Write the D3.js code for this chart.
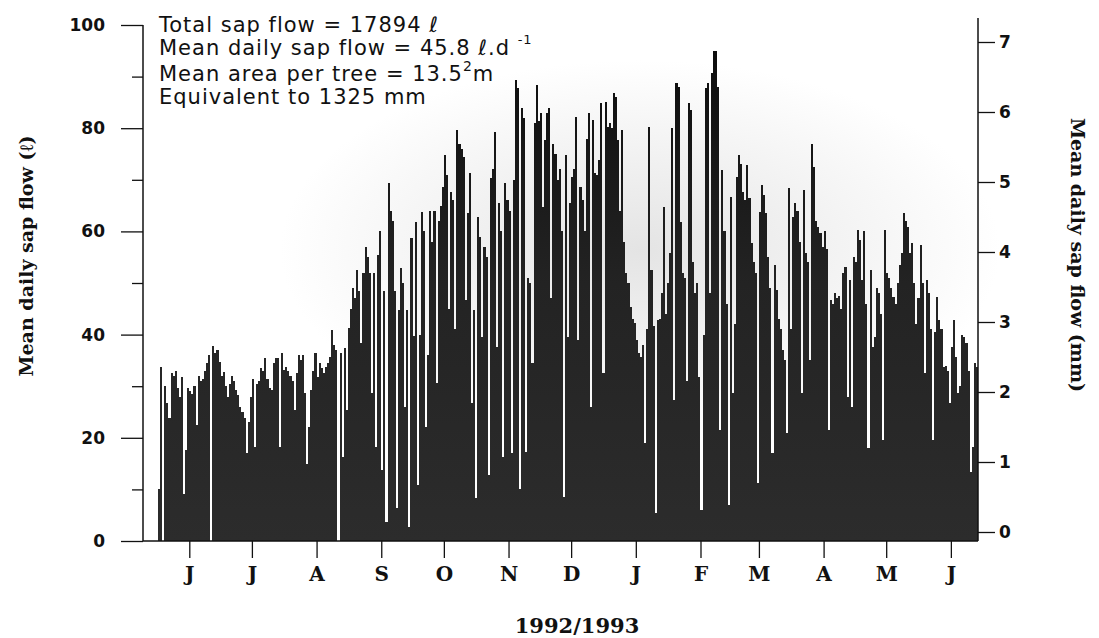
<!DOCTYPE html>
<html>
<head>
<meta charset="utf-8">
<script src="https://cdn.jsdelivr.net/npm/d3@7"></script>
<style>
  body { margin: 0; background: #fff; }
</style>
</head>
<body>
<div id="vis"></div>
<script>
// Frame
const FRAME_WIDTH = 1099;
const FRAME_HEIGHT = 638;
const PLOT = {left: 143, right: 978, top: 25, bottom: 541};

// Data: one value per day, from 17 May 1992
const START_DATE = new Date(1992, 4, 17);
const SAP_FLOW = [
  // May - Jul 1992
  10, 33.7, 0, 30, 26.7, 23.8, 32.5, 32, 32.9, 29.6, 28, 31.7, 9.2, 17.6, 29.6, 29, 28.5, 30, 22.5, 31.9,
  31, 31.3, 33, 34.4, 36, 0, 37.7, 36.5, 37, 34.7, 32, 32.7, 30, 28, 30.5, 32, 31, 29.2, 28.3, 26,
  25, 23.8, 17, 23, 28, 31.3, 18.3, 30.5, 31, 33.5, 33, 35.4, 31.3, 29.6, 29.3, 34.4, 35.4, 35.4, 18.3, 36.5,
  33.2, 33.7, 33, 32, 31,
  // Jul - Sep 1992
  25.4, 32.5, 36, 35, 36, 28.6, 15, 22, 29.3, 33, 36.4, 31.8, 34.4, 33.5, 32.5, 33.7, 34.5, 35.7, 40.9, 38,
  37, 0, 36.4, 16.3, 37.4, 25.4, 41.3, 45, 49, 47, 52.5, 48.5, 38.4, 52, 57, 55, 52, 28.6, 52, 18.3,
  55.4, 60, 13.8, 48.5, 3.7, 69.3, 64, 62, 48.5, 6.4, 44.8, 53, 50, 26, 44.8, 2.7, 58.7, 39.7, 61.8, 10.9,
  40, 63.8, 60, 22, 36, 64, 58,
  // Sep - Dec 1992
  64, 30.6, 62, 65, 68.6, 74.8, 71, 45, 67.6, 66, 41, 79.7, 77, 76, 74.5, 46.7, 63.5, 71.3, 26.7, 44.8,
  8.3, 62.8, 59, 39.5, 57, 55, 12.8, 70.3, 72, 79.3, 37.6, 65.5, 60, 16.3, 69.4, 66, 64, 17, 70, 89.3,
  87.8, 10, 84, 82, 17.2, 51, 50, 34.5, 81, 88.4, 81.4, 82.9, 64.7, 77.7, 82.9, 83.9, 47, 77, 75, 70,
  72, 60, 8.5, 74.8, 39.5, 65.5, 70.5, 72,
  // Dec 1992 - Feb 1993
  82.2, 39, 68.6, 66, 60, 78, 82.9, 26, 81.6, 71.3, 71, 73.8, 84.9, 32.6, 85, 80.2, 81, 80, 86.8, 86,
  77.7, 64, 79.7, 58, 52, 50, 45.4, 43, 42.2, 39, 36.5, 35.7, 38, 19, 41, 80.2, 52.5, 41.6, 5.4, 42.8,
  43, 48, 64.7, 44, 50, 55.8, 80, 27.3, 88.8, 88, 61.8, 52, 51, 31, 84.9, 83.5, 54, 48, 50, 31.8,
  6, 40, 87.8, 88.8, 48, 90.7, 95,
  // Feb - Apr 1993
  95, 88, 21.5, 71.9, 60, 46, 7, 66.7, 28.6, 42, 70.5, 74.8, 73, 67.6, 66, 72.9, 66.5, 57.7, 54, 52,
  11.2, 63.8, 69, 67, 63.5, 55, 49, 17, 53.5, 48.6, 43, 41, 37, 35, 21, 68.4, 41, 62.8, 65.5, 64,
  58, 28.6, 68, 55.8, 54, 35, 77, 72.5, 62, 60.9, 59.6, 57, 60, 56.5, 21.5, 46.7, 46, 48, 47, 47.5,
  45, 52,
  // Apr - Jun 1993
  53.1, 28, 50.6, 26, 55, 54, 60.3, 58.3, 50.6, 60, 46, 18, 52.5, 37.6, 39.5, 49, 48, 44, 19.6, 60.3,
  52, 51, 49, 47.3, 46, 50, 53.5, 55.8, 63.5, 62, 60.9, 55.8, 57.7, 50, 42, 47, 57.4, 50, 32.5, 50.6,
  48, 41, 19.6, 40.5, 47.3, 42.8, 41, 33.7, 34, 33, 26.7, 37.6, 42.8, 35.7, 28.6, 30, 40, 39.5, 38.4, 33,
  13.4, 18.3, 34.5, 33.7
];

const MONTH_LABELS = ["J", "J", "A", "S", "O", "N", "D", "J", "F", "M", "A", "M", "J"];
const LEFT_TICKS = [0, 20, 40, 60, 80, 100];
const LEFT_MINOR_TICKS = [10, 30, 50, 70, 90];
const RIGHT_TICKS = [0, 1, 2, 3, 4, 5, 6, 7];

const SANS = "'DejaVu Sans', Verdana, sans-serif";
const SERIF = "'DejaVu Serif', Georgia, serif";

const SVG = d3.select("#vis")
  .append("svg")
    .attr("width", FRAME_WIDTH)
    .attr("height", FRAME_HEIGHT)
    .style("font-family", SANS);

// scales
const END_DATE = d3.timeDay.offset(START_DATE, SAP_FLOW.length);
const X_SCALE = d3.scaleTime()
  .domain([START_DATE, END_DATE])
  .range([158, PLOT.right]);

const Y_SCALE = d3.scaleLinear()
  .domain([0, 100])
  .range([PLOT.bottom, PLOT.top]);

// right axis in mm (13.5 m2 per tree), scan sits slightly higher
const Y_SCALE_MM = d3.scaleLinear()
  .domain([0, 7])
  .range([532, 42]);

// soft grey haze behind the bars, as in the scan
const defs = SVG.append("defs");
const haze = defs.append("radialGradient").attr("id", "haze");
haze.append("stop").attr("offset", "0%").attr("stop-color", "#e4e4e4");
haze.append("stop").attr("offset", "100%").attr("stop-color", "#ffffff");

const barFill = defs.append("linearGradient")
  .attr("id", "barFill")
  .attr("gradientUnits", "userSpaceOnUse")
  .attr("x1", 0).attr("y1", PLOT.top)
  .attr("x2", 0).attr("y2", PLOT.bottom);
barFill.append("stop").attr("offset", "0%").attr("stop-color", "#0b0b0b");
barFill.append("stop").attr("offset", "50%").attr("stop-color", "#232323");
barFill.append("stop").attr("offset", "100%").attr("stop-color", "#2c2c2c");

SVG.append("ellipse")
  .attr("cx", 640).attr("cy", 250)
  .attr("rx", 360).attr("ry", 190)
  .attr("fill", "url(#haze)");

// bars
const days = SAP_FLOW.map((v, i) => ({date: d3.timeDay.offset(START_DATE, i), value: v}));

SVG.append("g")
  .attr("shape-rendering", "crispEdges")
  .selectAll(".bar")
  .data(days)
  .enter()
  .append("rect")
    .attr("class", "bar")
    .attr("x", d => X_SCALE(d.date))
    .attr("y", d => Y_SCALE(d.value))
    .attr("width", d => X_SCALE(d3.timeDay.offset(d.date, 1)) - X_SCALE(d.date))
    .attr("height", d => PLOT.bottom - Y_SCALE(d.value))
    .attr("fill", "url(#barFill)");

// axis lines
SVG.append("line")
  .attr("x1", PLOT.left).attr("x2", PLOT.left)
  .attr("y1", PLOT.top).attr("y2", PLOT.bottom)
  .attr("stroke", "#111").attr("stroke-width", 1.5);
SVG.append("line")
  .attr("x1", PLOT.right).attr("x2", PLOT.right)
  .attr("y1", 18).attr("y2", PLOT.bottom)
  .attr("stroke", "#111").attr("stroke-width", 1.5);
SVG.append("line")
  .attr("x1", PLOT.left).attr("x2", PLOT.right)
  .attr("y1", PLOT.bottom).attr("y2", PLOT.bottom)
  .attr("stroke", "#111").attr("stroke-width", 1.5);

// left axis
const leftAxis = SVG.append("g")
  .attr("transform", "translate(" + PLOT.left + ",0)")
  .call(d3.axisLeft(Y_SCALE).tickValues(LEFT_TICKS).tickSize(22).tickPadding(16));
leftAxis.select(".domain").remove();
leftAxis.selectAll("text")
  .attr("font-size", "17px")
  .attr("font-weight", "bold")
  .attr("font-family", SANS)
  .attr("fill", "#111");
leftAxis.selectAll("line").attr("stroke", "#111").attr("stroke-width", 1.3);

const leftMinor = SVG.append("g")
  .attr("transform", "translate(" + PLOT.left + ",0)")
  .call(d3.axisLeft(Y_SCALE).tickValues(LEFT_MINOR_TICKS).tickSize(11).tickFormat(""));
leftMinor.select(".domain").remove();
leftMinor.selectAll("line").attr("stroke", "#111").attr("stroke-width", 1.3);

// right axis
const rightAxis = SVG.append("g")
  .attr("transform", "translate(" + PLOT.right + ",0)")
  .call(d3.axisRight(Y_SCALE_MM).tickValues(RIGHT_TICKS).tickSize(17).tickPadding(4)
    .tickFormat(d3.format("d")));
rightAxis.select(".domain").remove();
rightAxis.selectAll("text")
  .attr("font-size", "17px")
  .attr("font-weight", "bold")
  .attr("font-family", SANS)
  .attr("fill", "#111");
rightAxis.selectAll("line").attr("stroke", "#111").attr("stroke-width", 1.3);

// bottom axis, one tick per month
const MONTHS = d3.timeMonth.range(new Date(1992, 5, 1), new Date(1993, 5, 2));
const bottomAxis = SVG.append("g")
  .attr("transform", "translate(0," + PLOT.bottom + ")")
  .call(d3.axisBottom(X_SCALE)
    .tickValues(MONTHS)
    .tickSize(17)
    .tickPadding(9)
    .tickFormat((d, i) => MONTH_LABELS[i]));
bottomAxis.select(".domain").remove();
bottomAxis.selectAll("text")
  .attr("font-size", "20px")
  .attr("font-weight", "bold")
  .attr("font-family", SERIF)
  .attr("fill", "#111");
bottomAxis.selectAll("line").attr("stroke", "#111").attr("stroke-width", 1.3);

// axis titles
SVG.append("text")
  .attr("transform", "translate(33,256) rotate(-90)")
  .attr("text-anchor", "middle")
  .attr("font-family", SERIF)
  .attr("font-weight", "bold")
  .attr("font-size", "19px")
  .attr("fill", "#111")
  .text("Mean daily sap flow (ℓ)");

SVG.append("text")
  .attr("transform", "translate(1071,255) rotate(90)")
  .attr("text-anchor", "middle")
  .attr("font-family", SERIF)
  .attr("font-weight", "bold")
  .attr("font-size", "19px")
  .attr("fill", "#111")
  .text("Mean daily sap flow (mm)");

SVG.append("text")
  .attr("x", 577).attr("y", 633)
  .attr("text-anchor", "middle")
  .attr("font-family", SERIF)
  .attr("font-weight", "bold")
  .attr("font-size", "21px")
  .attr("fill", "#111")
  .text("1992/1993");

// annotation block
const notes = SVG.append("g")
  .attr("font-size", "21px")
  .attr("font-family", SANS)
  .attr("letter-spacing", "1px")
  .attr("fill", "#111");

notes.append("text").attr("x", 159).attr("y", 32)
  .text("Total sap flow = 17894 ℓ");

const line2 = notes.append("text").attr("x", 159).attr("y", 55);
line2.append("tspan").text("Mean daily sap flow = 45.8 ℓ.d ");
line2.append("tspan").attr("dy", -11).attr("font-size", "13px").text("-1");

const line3 = notes.append("text").attr("x", 159).attr("y", 81);
line3.append("tspan").text("Mean area per tree = 13.5");
line3.append("tspan").attr("dy", -10).attr("font-size", "14px").text("2");
line3.append("tspan").attr("dy", 10).text("m");

notes.append("text").attr("x", 159).attr("y", 104)
  .text("Equivalent to 1325 mm");
</script>
</body>
</html>
